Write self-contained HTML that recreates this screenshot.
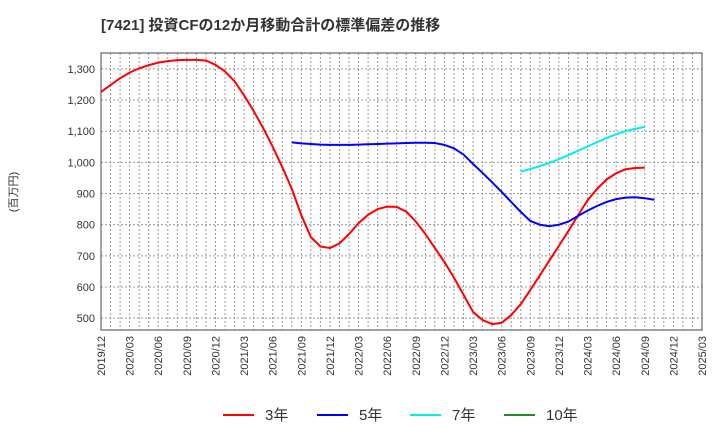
<!DOCTYPE html>
<html><head><meta charset="utf-8"><style>
body{margin:0;background:#fff;font-family:"Liberation Sans","Noto Sans CJK JP",sans-serif;}
svg text{font-family:"Liberation Sans","Noto Sans CJK JP",sans-serif;}
</style></head><body>
<svg id="chart" width="720" height="440" xmlns="http://www.w3.org/2000/svg">
<text x="101" y="30" font-size="15" font-weight="bold" fill="#333">[7421]  投資CFの12か月移動合計の標準偏差の推移</text>
<text transform="translate(17,192) rotate(-90)" font-size="11" fill="#333" text-anchor="middle">(百万円)</text>
<g id="grid"></g><g id="axes"></g><g id="series"></g><g id="legend"></g>
</svg>
<script>
const xLabels=["2019/12","2020/03","2020/06","2020/09","2020/12","2021/03","2021/06","2021/09","2021/12","2022/03","2022/06","2022/09","2022/12","2023/03","2023/06","2023/09","2023/12","2024/03","2024/06","2024/09","2024/12","2025/03"];
const yTicks=[500,600,700,800,900,1000,1100,1200,1300];
const s3Start=0;
const s3=[1226,1248,1270,1288,1302,1312,1320,1325,1328,1329,1329,1327,1313,1292,1260,1215,1165,1110,1050,985,915,830,760,730,725,740,770,805,832,850,858,857,842,810,770,725,680,630,575,520,494,481,485,510,545,590,637,685,732,780,830,878,915,945,965,978,982,983];
const s5Start=20;
const s5=[1064,1061,1059,1057,1056,1056,1056,1057,1058,1059,1060,1061,1062,1063,1063,1062,1056,1045,1025,995,966,936,905,873,841,812,800,795,800,810,828,845,860,873,882,887,888,885,880];
const s7Start=44;
const s7=[970,979,988,998,1010,1023,1037,1051,1065,1078,1090,1100,1108,1114];
const s10Start=0;
const s10=[];
const L=101,R=702,T=53,B=330,NM=63,yMin=462,yMax=1351;
const NS="http://www.w3.org/2000/svg";
const X=i=>L+(R-L)*i/NM;
const Y=v=>B-(B-T)*(v-yMin)/(yMax-yMin);
function mk(tag,attrs,parent){const e=document.createElementNS(NS,tag);for(const k in attrs)e.setAttribute(k,attrs[k]);parent.appendChild(e);return e;}
const grid=document.getElementById('grid'),axes=document.getElementById('axes'),series=document.getElementById('series'),legend=document.getElementById('legend');
for(let m=0;m<=NM;m++){const l=mk('line',{x1:X(m),x2:X(m),y1:T,y2:B,stroke:'#999','stroke-dasharray':'2,2','stroke-width':1},grid);

}
yTicks.forEach(v=>{const l=mk('line',{x1:L,x2:R,y1:Y(v),y2:Y(v),stroke:'#999','stroke-dasharray':'2,2','stroke-width':1},grid);


const t=mk('text',{x:L-6,y:Y(v)+4,'font-size':11,fill:'#333','text-anchor':'end'},axes);


t.textContent=v.toLocaleString('en-US');});
xLabels.forEach((s,i)=>{const x=X(i*3);const t=mk('text',{transform:`translate(${x+4},${B+6}) rotate(-90)`,'font-size':11,fill:'#333','text-anchor':'end'},axes);


t.textContent=s;});
const frame=mk('rect',{x:L,y:T,width:R-L,height:B-T,fill:'none',stroke:'#444','stroke-width':1},axes);


function draw(arr,start,color,name){if(!arr.length)return;const p=mk('polyline',{points:arr.map((v,i)=>X(start+i)+','+Y(v)).join(' '),fill:'none',stroke:color,'stroke-width':2,'stroke-linejoin':'round'},series);

}
draw(s3,s3Start,'#ff0000','line-3yr');
draw(s5,s5Start,'#0000ff','line-5yr');
draw(s7,s7Start,'#00eeee','line-7yr');
draw(s10,s10Start,'#228b22','line-10yr');
const leg=[['3年','#ff0000',223],['5年','#0000ff',317],['7年','#00eeee',410],['10年','#228b22',504]];
leg.forEach(([n,c,x])=>{const g=mk('g',{},legend);


mk('line',{x1:x,x2:x+31,y1:415,y2:415,stroke:c,'stroke-width':2},g);
const t=mk('text',{x:x+42,y:420,'font-size':15,fill:'#333'},g);t.textContent=n;});
</script>
</body></html>
